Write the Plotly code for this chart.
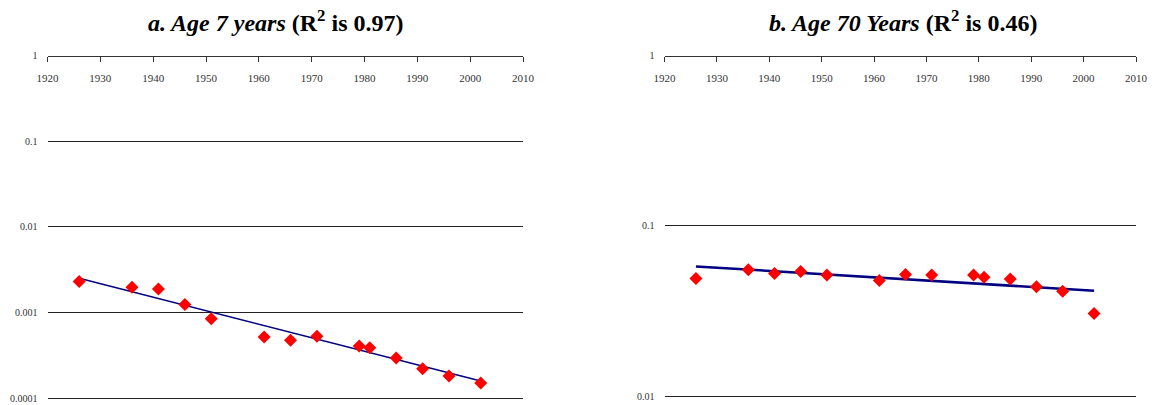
import plotly.graph_objects as go

# Census years (Ireland)
years = [1926, 1936, 1941, 1946, 1951, 1961, 1966, 1971, 1979, 1981, 1986, 1991, 1996, 2002]

# Panel a: Age 7 mortality rate
age7 = [0.0023, 0.00197, 0.00187, 0.00124, 0.000844, 0.000515, 0.000471, 0.000525,
        0.000404, 0.000387, 0.000293, 0.000219, 0.000181, 0.00015]
trend7_years = [1926, 2002]
trend7 = [0.00251, 0.000158]

# Panel b: Age 70 mortality rate
age70 = [0.049, 0.0551, 0.0524, 0.0539, 0.0513, 0.0477, 0.0517, 0.0513,
         0.0513, 0.0499, 0.0486, 0.0438, 0.0413, 0.0305]
trend70_years = [1926, 2002]
trend70 = [0.0577, 0.0415]

x_ticks = list(range(1920, 2011, 10))
y_ticks_a = [0.0001, 0.001, 0.01, 0.1, 1]
y_text_a = ["0.0001", "0.001", "0.01", "0.1", "1"]
y_ticks_b = [0.01, 0.1, 1]
y_text_b = ["0.01", "0.1", "1"]

title_a = "<b><i>a. Age 7 years</i> (R<sup>2</sup> is 0.97)</b>"
title_b = "<b><i>b. Age 70 Years</i> (R<sup>2</sup> is 0.46)</b>"

W, H = 1154, 405
FONT = "Liberation Serif, Times New Roman, serif"

fig = go.Figure()

fig.add_trace(go.Scatter(x=trend7_years, y=trend7, mode="lines",
                         line=dict(color="#000080", width=1.5),
                         xaxis="x", yaxis="y", showlegend=False, hoverinfo="skip"))
fig.add_trace(go.Scatter(x=years, y=age7, mode="markers",
                         marker=dict(symbol="diamond", size=10, color="#FF0000"),
                         xaxis="x", yaxis="y", showlegend=False))
fig.add_trace(go.Scatter(x=trend70_years, y=trend70, mode="lines",
                         line=dict(color="#000080", width=2.5),
                         xaxis="x2", yaxis="y2", showlegend=False, hoverinfo="skip"))
fig.add_trace(go.Scatter(x=years, y=age70, mode="markers",
                         marker=dict(symbol="diamond", size=10, color="#FF0000"),
                         xaxis="x2", yaxis="y2", showlegend=False))

top_px = 55.5
pos_top = (H - top_px) / H
EXT = 4  # extra pixels below the lowest gridline so it is drawn

def xax(domain):
    return dict(domain=domain, range=[1920, 2010], tickvals=x_ticks,
                ticktext=[str(t) for t in x_ticks],
                showgrid=False, zeroline=False, showline=True,
                linecolor="#333333", linewidth=1,
                ticks="outside", ticklen=5, tickcolor="#333333",
                side="bottom", anchor="free", position=pos_top,
                ticklabelstandoff=7, automargin=False,
                tickfont=dict(family=FONT, size=11, color="#333333"),
                fixedrange=True)

def yax(bottom_px, decade_px, lo, tv, tt, anchor):
    eps = EXT / decade_px
    return dict(domain=[(H - bottom_px - EXT) / H, pos_top], type="log",
                range=[lo - eps, 0], tickvals=tv, ticktext=tt,
                showgrid=True, gridcolor="#222222", gridwidth=1,
                zeroline=False, showline=False, ticks="", anchor=anchor,
                ticklabelstandoff=9, automargin=False,
                tickfont=dict(family=FONT, size=10, color="#333333"),
                fixedrange=True)

fig.update_layout(
    width=W, height=H,
    margin=dict(l=0, r=0, t=0, b=0),
    paper_bgcolor="white", plot_bgcolor="white",
    xaxis=xax([47.5 / W, 523 / W]),
    yaxis=yax(398, (398 - top_px) / 4, -4, y_ticks_a, y_text_a, "x"),
    xaxis2=xax([664.5 / W, 1136 / W]),
    yaxis2=yax(396, (396 - top_px) / 2, -2, y_ticks_b, y_text_b, "x2"),
    annotations=[
        dict(text=title_a, x=275 / W, y=(H - 21) / H, xref="paper", yref="paper",
             xanchor="center", yanchor="middle", showarrow=False,
             font=dict(family=FONT, size=24, color="black")),
        dict(text=title_b, x=903 / W, y=(H - 21) / H, xref="paper", yref="paper",
             xanchor="center", yanchor="middle", showarrow=False,
             font=dict(family=FONT, size=24, color="black")),
    ],
)

fig.write_html("out.html")
